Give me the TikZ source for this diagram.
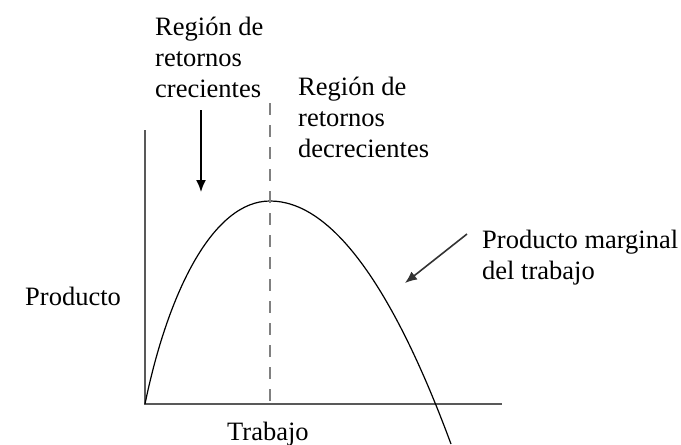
\documentclass[tikz,border=0pt]{standalone}
\usepackage{fontspec}
\usetikzlibrary{arrows.meta}
\setmainfont{Liberation Serif}
\begin{document}
\begin{tikzpicture}[x=1pt,y=-1pt]
		\tikzstyle{every node}+=[inner sep=0pt]
		\tikzstyle{lbl}=[font=\fontsize{26.5}{31}\selectfont, align=left]
		\tikzstyle{axis}=[line width=2.2pt, black!65]
		\tikzstyle{pointer}=[line width=1.6pt, -{Latex[length=12pt,width=10pt]}]
		\useasboundingbox (0,0) rectangle (681,445);
		% axes
		\coordinate (O) at (145,404);
		\coordinate (ytop) at (145,130);
		\coordinate (xend) at (502,404);
		\draw [axis] (ytop) -- (O) -- (xend);
		% curve
		\coordinate (peak) at (270,201);
		\coordinate (cend) at (451,444);
		\draw [black, line width=1.2pt] (O) .. controls (168,292) and (213,201) .. (peak);
		\draw [black, line width=1.2pt] (peak) .. controls (330,201) and (391,282) .. (cend);
		% dashed divider
		\coordinate (dtop) at (270,103);
		\coordinate (dbot) at (270,403);
		\draw [black!50, line width=2.4pt, dash pattern=on 12pt off 10pt] (dtop) -- (dbot);
		% labels
		\node [lbl, anchor=north west] (crec) at (155,17) {Región de\\retornos\\crecientes};
		\node [lbl, anchor=north west] (decrec) at (298,77) {Región de\\retornos\\decrecientes};
		\node [lbl, anchor=north west] (pmg) at (482,230) {Producto marginal\\del trabajo};
		\node [lbl, anchor=base west] (prod) at (25,305) {Producto};
		\node [lbl, anchor=base west] (trab) at (227,440) {Trabajo};
		% arrows
		\coordinate (a1s) at (201,110);
		\coordinate (a1e) at (201,192);
		\draw [pointer, black] (a1s) -- (a1e);
		\coordinate (a2s) at (467,234);
		\coordinate (a2e) at (405,283);
		\draw [pointer, black!80] (a2s) -- (a2e);
\end{tikzpicture}
\end{document}
